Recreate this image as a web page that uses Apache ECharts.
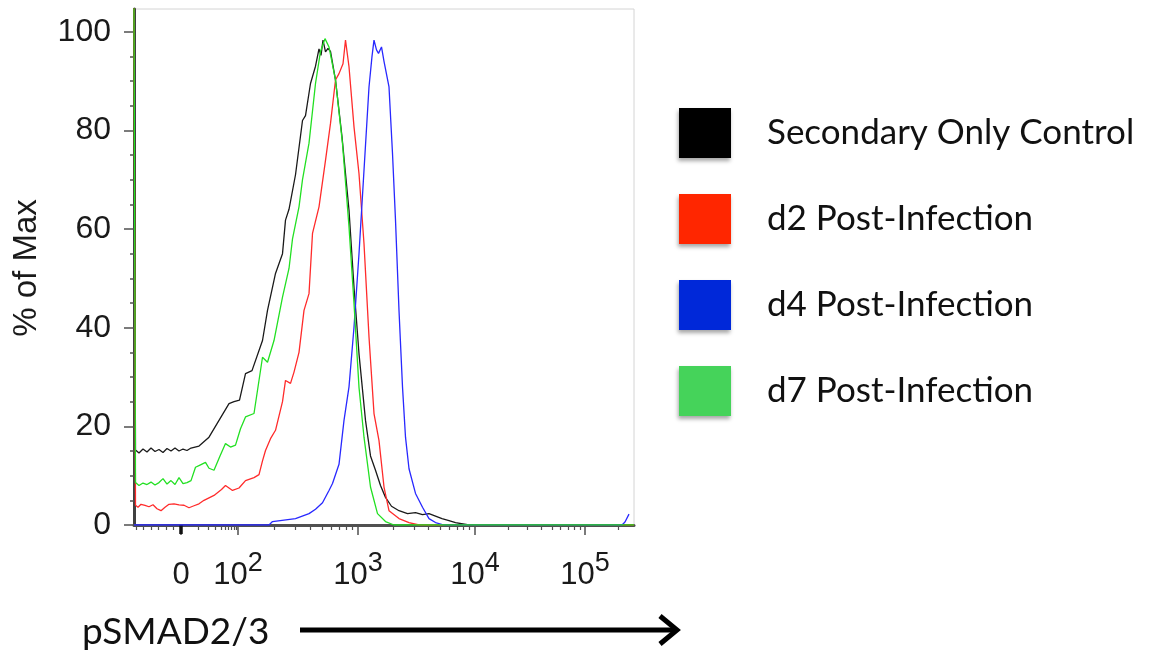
<!DOCTYPE html>
<html>
<head>
<meta charset="utf-8">
<title>pSMAD2/3 histogram</title>
<script src="https://cdn.jsdelivr.net/npm/echarts@6/dist/echarts.min.js"></script>
<style>
  html, body { margin: 0; padding: 0; background: #ffffff; }
  #chart { width: 1152px; height: 651px; }
</style>
</head>
<body>
<div id="chart"></div>
<script>
// Histogram traces: [display channel (0-1000 on the biexponential axis), % of max]
const secondaryOnly = [
  [0,105],[3,15.2],[10,14.6],[18,15.4],[26,14.8],[34,15.6],[42,14.9],[50,15.3],[58,14.7],
  [66,15.5],[74,15.0],[82,15.6],[90,15.0],[98,15.4],[106,15.1],[114,15.6],[130,16.0],
  [150,17.8],[170,21.2],[190,24.6],[200,25.0],[211,25.3],[223,30.7],[236,31.3],[257,37.4],
  [267,43.5],[283,51.0],[297,55.0],[303,61.8],[310,64.0],[323,71.0],[337,82.0],[343,83.0],
  [353,89.5],[363,93.0],[370,96.5],[374,95.2],[378,98.3],[383,95.9],[388,96.6],[393,96.0],
  [403,90.2],[416,78.7],[430,63.8],[440,48.2],[450,34.7],[463,21.2],[473,14.0],[483,11.1],
  [493,8.0],[503,5.6],[515,3.8],[530,2.9],[547,2.3],[563,2.5],[577,2.1],[590,2.3],
  [603,1.8],[616,1.3],[630,0.9],[643,0.5],[670,0],[1000,0]
];
const d2Post = [
  [0,105],[3,4.0],[8,3.6],[14,4.2],[22,4.0],[30,3.7],[38,4.1],[46,3.3],[54,2.9],[62,3.6],
  [70,4.2],[80,4.3],[90,4.1],[100,4.0],[110,3.5],[120,3.9],[130,4.3],[140,5.0],[160,6.0],
  [175,7.2],[183,8.0],[197,7.0],[210,7.5],[223,9.0],[240,9.6],[250,10.2],[257,13.0],
  [263,15.1],[273,17.5],[283,19.2],[297,25.0],[303,29.3],[313,28.7],[320,31.0],[330,35.0],
  [340,43.5],[350,46.9],[357,59.1],[370,64.5],[383,73.9],[393,81.4],[403,90.2],[410,91.5],
  [418,93.5],[423,98.3],[430,92.9],[440,80.7],[450,71.2],[460,57.0],[470,38.1],[480,22.6],
  [490,17.1],[500,7.7],[510,2.9],[530,1.3],[550,0.5],[570,0],[1000,0]
];
const d4Post = [
  [0,0],[270,0],[277,0.7],[300,1.0],[323,1.3],[350,2.3],[363,3.2],[377,4.5],[390,7.0],
  [397,8.4],[410,12.3],[420,21.2],[430,28.0],[440,40.1],[450,55.0],[460,71.9],[470,88.8],
  [476,95.0],[480,98.3],[485,96.3],[489,95.6],[495,96.9],[500,94.0],[510,88.8],[517,75.3],
  [523,61.8],[530,43.5],[537,28.0],[543,17.8],[550,11.4],[563,6.4],[577,3.6],[590,1.3],
  [603,0.5],[620,0],[976,0],[982,0.6],[990,2.2]
];
const d7Post = [
  [0,105],[3,8.6],[10,8.0],[18,8.5],[26,8.2],[34,8.7],[42,8.1],[50,8.6],[58,9.4],[66,8.3],
  [74,9.0],[82,8.2],[90,9.6],[98,8.4],[106,8.6],[114,9.0],[123,11.7],[133,12.2],[143,12.7],
  [150,11.5],[160,11.1],[172,14.0],[183,16.5],[193,15.8],[203,16.2],[213,19.5],[223,21.9],
  [240,22.6],[257,34.0],[267,33.0],[280,37.4],[297,46.2],[310,52.0],[317,58.0],[330,64.5],
  [337,70.0],[350,77.4],[363,89.5],[373,96.0],[382,98.6],[390,96.9],[403,90.2],[417,77.3],
  [430,60.4],[440,44.9],[450,27.9],[460,17.8],[473,7.7],[487,2.3],[503,0.7],[520,0],[1000,0]
];

const seriesNames = ['Secondary Only Control', 'd2 Post-Infection', 'd4 Post-Infection', 'd7 Post-Infection'];
const seriesData = [secondaryOnly, d2Post, d4Post, d7Post];
const lineColors = ['#1a1a1a', '#ff2b2b', '#2828ff', '#22e022'];
const swatchColors = ['#000000', '#ff2600', '#0028d9', '#45d35a'];

// Axis decorations (fluorescence intensity)
const majorTickValues = [0, 100, 1000, 10000, 100000];
const majorTickLabels = [['0', ''], ['10', '2'], ['10', '3'], ['10', '4'], ['10', '5']];
const minorTickValues = [
  -60, -50, -40, -30, -20, -10,
  10, 20, 30, 40, 50, 60, 70, 80, 90,
  200, 300, 400, 500, 600, 700, 800, 900,
  2000, 3000, 4000, 5000, 6000, 7000, 8000, 9000,
  20000, 30000, 40000, 50000, 60000, 70000, 80000, 90000,
  200000
];
const yMajorTicks = [0, 20, 40, 60, 80, 100];
const yMinorTicks = [5, 10, 15, 25, 30, 35, 45, 50, 55, 65, 70, 75, 85, 90, 95];

// Biexponential display transform: intensity -> display channel
const ZERO_CH = 94;
const DECADE_CH = [208, 448, 682, 902]; // 10^2 .. 10^5
function toChannel(v) {
  if (v < 0) return ZERO_CH + 1.5 * v;
  if (v < 100) return ZERO_CH + (DECADE_CH[0] - ZERO_CH) * Math.asinh(v / 10) / Math.asinh(10);
  const d = Math.log10(v) - 2;
  const i = Math.min(Math.floor(d), DECADE_CH.length - 2);
  return DECADE_CH[i] + (d - i) * (DECADE_CH[i + 1] - DECADE_CH[i]);
}
const majorCh = majorTickValues.map(toChannel);
const minorCh = minorTickValues.map(toChannel);

const X_MAX = 1000;
const Y_MAX = 104.6;
const labelFont = "'Liberation Sans', Arial, sans-serif";
const textFont = "Lato, 'Open Sans', sans-serif";

const chart = echarts.init(document.getElementById('chart'), null, { renderer: 'canvas' });

const option = {
  animation: false,
  backgroundColor: '#ffffff',
  grid: {
    left: 134, right: 518, top: 9, bottom: 126,
    show: true, borderColor: '#d4d4d4', borderWidth: 1, backgroundColor: 'transparent'
  },
  legend: {
    orient: 'vertical',
    left: 679, top: 108, padding: 0,
    itemWidth: 52, itemHeight: 50, itemGap: 36,
    icon: 'rect',
    data: seriesNames,
    itemStyle: {
      borderWidth: 0,
      shadowBlur: 4, shadowColor: 'rgba(0,0,0,0.35)', shadowOffsetX: -1, shadowOffsetY: 3
    },
    textStyle: { fontFamily: textFont, fontSize: 35, color: '#111111', padding: [0, 0, 0, 31] }
  },
  xAxis: [
    {
      type: 'value', min: 0, max: X_MAX, position: 'bottom',
      axisLine: { show: true, lineStyle: { color: '#505050', width: 3 } },
      axisTick: { show: true, customValues: majorCh, length: 10, lineStyle: { color: '#505050', width: 1.5 } },
      axisLabel: {
        show: true, customValues: majorCh, margin: 25,
        formatter: function (val) {
          let k = 0, best = Infinity;
          majorCh.forEach(function (c, i) { if (Math.abs(c - val) < best) { best = Math.abs(c - val); k = i; } });
          const lab = majorTickLabels[k];
          return '{b|' + lab[0] + '}' + (lab[1] ? '{s|' + lab[1] + '}' : '');
        },
        rich: {
          b: { fontFamily: labelFont, fontSize: 31, color: '#1a1a1a', lineHeight: 50, verticalAlign: 'middle' },
          s: { fontFamily: labelFont, fontSize: 27, color: '#1a1a1a', lineHeight: 22, verticalAlign: 'top' }
        }
      },
      splitLine: { show: false }
    },
    {
      type: 'value', min: 0, max: X_MAX, position: 'bottom',
      axisLine: { show: false },
      axisTick: { show: true, customValues: minorCh, length: 5, lineStyle: { color: '#505050', width: 1.2 } },
      axisLabel: { show: false },
      splitLine: { show: false }
    },
    {
      type: 'value', min: 0, max: X_MAX, position: 'bottom',
      axisLine: { show: false },
      axisTick: { show: true, customValues: [toChannel(0)], length: 9, lineStyle: { color: '#111111', width: 3.5 } },
      axisLabel: { show: false },
      splitLine: { show: false }
    }
  ],
  yAxis: [
    {
      type: 'value', min: 0, max: Y_MAX, position: 'left',
      axisLine: { show: true, lineStyle: { color: '#404040', width: 3 } },
      axisTick: { show: true, customValues: yMajorTicks, length: 10, lineStyle: { color: '#505050', width: 1.5 } },
      axisLabel: {
        show: true, customValues: yMajorTicks, margin: 23,
        fontFamily: labelFont, fontSize: 32, color: '#1a1a1a'
      },
      splitLine: { show: false }
    },
    {
      type: 'value', min: 0, max: Y_MAX, position: 'left',
      axisLine: { show: false },
      axisTick: { show: true, customValues: yMinorTicks, length: 4, lineStyle: { color: '#505050', width: 1.5 } },
      axisLabel: { show: false },
      splitLine: { show: false }
    }
  ],
  series: seriesData.map(function (d, i) {
    return {
      name: seriesNames[i],
      type: 'line',
      xAxisIndex: 0, yAxisIndex: 0,
      data: d,
      showSymbol: false,
      symbol: 'none',
      clip: true,
      itemStyle: { color: swatchColors[i] },
      lineStyle: { color: lineColors[i], width: 1.3 },
      z: 3 + i
    };
  }),
  graphic: [
    {
      type: 'text',
      x: 27, y: 268, rotation: Math.PI / 2,
      style: {
        text: '% of Max', fontFamily: labelFont, fontSize: 33, fill: '#1a1a1a',
        align: 'center', verticalAlign: 'middle'
      }
    },
    {
      type: 'text',
      x: 82, y: 632,
      style: {
        text: 'pSMAD2/3', fontFamily: textFont, fontSize: 37, fill: '#111111',
        align: 'left', verticalAlign: 'middle'
      }
    },
    {
      type: 'line',
      shape: { x1: 300, y1: 630, x2: 674, y2: 630 },
      style: { stroke: '#000000', lineWidth: 5 }
    },
    {
      type: 'polyline',
      shape: { points: [[660, 616], [677, 630], [660, 644]] },
      style: { stroke: '#000000', lineWidth: 5, fill: null, lineJoin: 'miter' }
    }
  ]
};

chart.setOption(option);
</script>
</body>
</html>
